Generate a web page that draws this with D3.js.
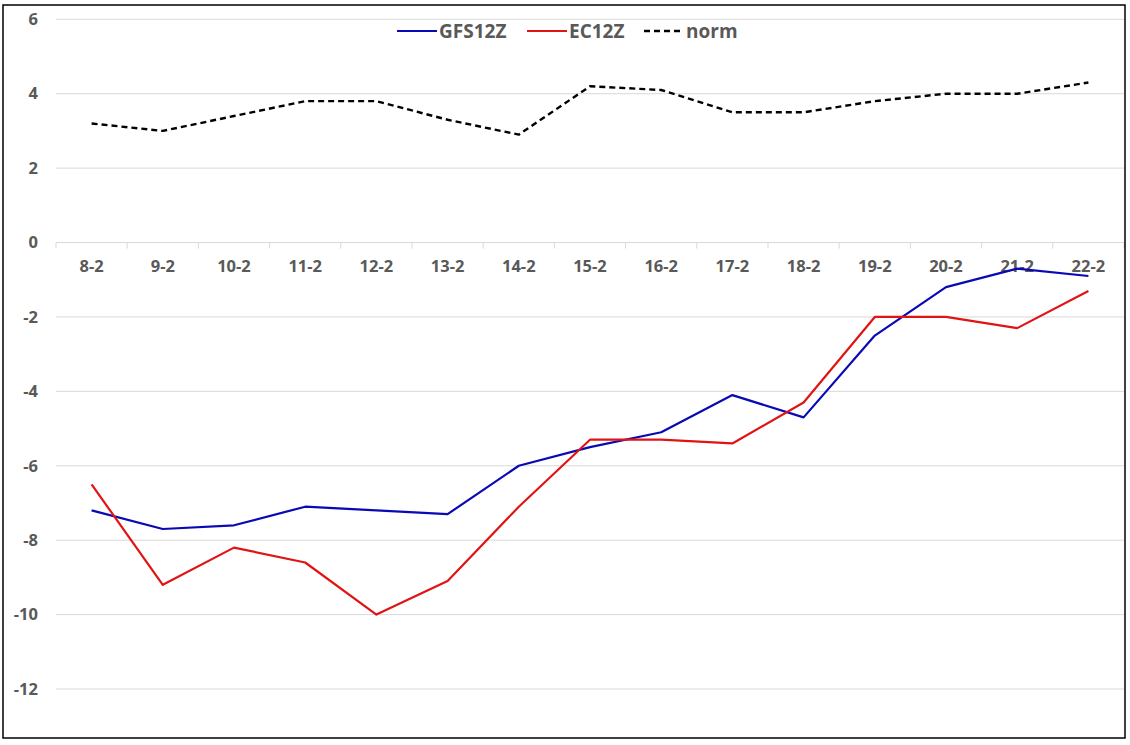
<!DOCTYPE html>
<html>
<head>
<meta charset="utf-8">
<script src="https://cdn.jsdelivr.net/npm/d3@7"></script>
<style>
  body { margin: 0; background: #fff; }
  text { font-family: "Open Sans", "Liberation Sans", sans-serif; font-weight: bold; fill: #595959; }
</style>
</head>
<body>
<div id="chart"></div>
<script>
//chart data
let days = ["8-2", "9-2", "10-2", "11-2", "12-2", "13-2", "14-2", "15-2", "16-2", "17-2", "18-2", "19-2", "20-2", "21-2", "22-2"];
let gfs12z = [-7.2, -7.7, -7.6, -7.1, -7.2, -7.3, -6.0, -5.5, -5.1, -4.1, -4.7, -2.5, -1.2, -0.7, -0.9];
let ec12z = [-6.5, -9.2, -8.2, -8.6, -10.0, -9.1, -7.1, -5.3, -5.3, -5.4, -4.3, -2.0, -2.0, -2.3, -1.3];
let norm = [3.2, 3.0, 3.4, 3.8, 3.8, 3.3, 2.9, 4.2, 4.1, 3.5, 3.5, 3.8, 4.0, 4.0, 4.3];
let yTicks = [6, 4, 2, 0, -2, -4, -6, -8, -10, -12];

let series = [
    {name: "GFS12Z", values: gfs12z, color: "#0a0ab4", dash: null, width: 2.2},
    {name: "EC12Z", values: ec12z, color: "#e01414", dash: null, width: 2.2},
    {name: "norm", values: norm, color: "#000", dash: "6,4", width: 2.4}
];

let width = 1130,
    height = 745;

let svg = d3.select("#chart")
    .append("svg")
    .attr("width", width)
    .attr("height", height);

//scales
let x = d3.scaleBand()
    .domain(days)
    .range([56, 1124])
    .padding(0);
let y = d3.scaleLinear()
    .domain([-12, 6])
    .range([689, 19.3]);

//gridlines
svg.append("g")
    .selectAll("line")
    .data(yTicks)
    .enter()
    .append("line")
    .attr("x1", 56)
    .attr("x2", 1124)
    .attr("y1", d => y(d))
    .attr("y2", d => y(d))
    .attr("stroke", "#d9d9d9")
    .attr("stroke-width", 1);

//y labels
svg.append("g")
    .selectAll("text")
    .data(yTicks)
    .enter()
    .append("text")
    .attr("x", 38)
    .attr("y", d => y(d))
    .attr("dy", "0.35em")
    .attr("text-anchor", "end")
    .style("font-size", "16.5px")
    .text(d => d);

//x axis at zero with tick marks between categories
let xAxis = d3.axisBottom(x).tickSize(0).tickPadding(18);
let gx = svg.append("g")
    .attr("transform", `translate(0,${y(0)})`)
    .call(xAxis);
gx.select(".domain").remove();
gx.selectAll("text")
    .style("font-size", "16.5px")
    .attr("fill", "#595959");
gx.selectAll(".sep")
    .data(days.map(d => x(d)).concat([x.range()[1]]))
    .enter()
    .append("line")
    .attr("class", "sep")
    .attr("x1", d => d)
    .attr("x2", d => d)
    .attr("y1", 0)
    .attr("y2", 6)
    .attr("stroke", "#d9d9d9");

//lines
let line = d3.line()
    .x((d, i) => x(days[i]) + x.bandwidth() / 2)
    .y(d => y(d));

svg.append("g")
    .selectAll("path")
    .data(series)
    .enter()
    .append("path")
    .attr("d", d => line(d.values))
    .attr("fill", "none")
    .attr("stroke", d => d.color)
    .attr("stroke-width", d => d.width)
    .attr("stroke-dasharray", d => d.dash)
    .attr("stroke-linejoin", "round");

//legend
let legendX = [397, 527, 644];
let legend = svg.append("g")
    .selectAll("g")
    .data(series)
    .enter()
    .append("g")
    .attr("transform", (d, i) => `translate(${legendX[i]},31)`);
legend.append("line")
    .attr("x1", 0)
    .attr("x2", 40)
    .attr("stroke", d => d.color)
    .attr("stroke-width", d => d.width)
    .attr("stroke-dasharray", d => d.dash);
legend.append("text")
    .attr("x", 42)
    .attr("dy", "0.35em")
    .style("font-size", "19px")
    .text(d => d.name);

//outer border
svg.append("rect")
    .attr("x", 3)
    .attr("y", 5)
    .attr("width", 1122)
    .attr("height", 733)
    .attr("fill", "none")
    .attr("stroke", "#000")
    .attr("stroke-width", 1.5);
</script>
</body>
</html>
